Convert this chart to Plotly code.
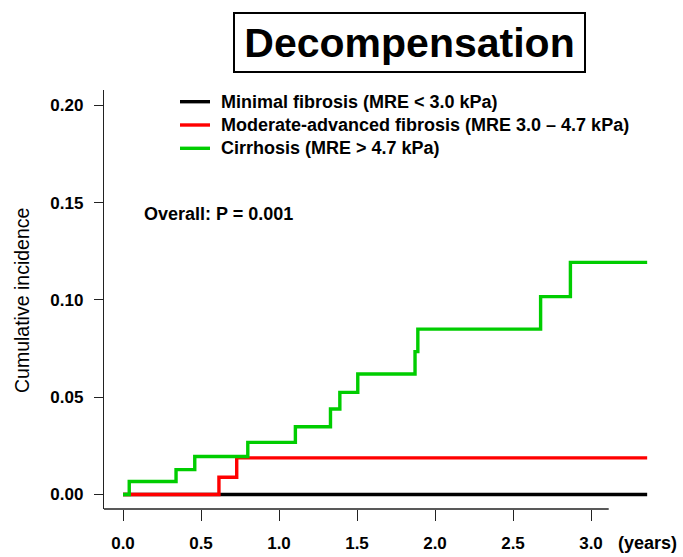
import plotly.graph_objects as go

# ---- data ----
series_names = [
    "Minimal fibrosis (MRE < 3.0 kPa)",
    "Moderate-advanced fibrosis (MRE 3.0 \u2013 4.7 kPa)",
    "Cirrhosis (MRE > 4.7 kPa)",
]
series_colors = ["#000000", "#FF0000", "#00CD00"]

minimal_time = [0.0, 3.36]
minimal_cif = [0.0, 0.0]

moderate_time = [0.0, 0.615, 0.729, 3.36]
moderate_cif = [0.0, 0.0089, 0.0188, 0.0188]

cirrhosis_time = [0.0, 0.04, 0.34, 0.46, 0.80, 1.105, 1.33, 1.39, 1.505,
                  1.872, 1.89, 2.677, 2.868, 3.36]
cirrhosis_cif = [0.0, 0.0067, 0.0128, 0.0195, 0.0268, 0.0348, 0.0439, 0.0525,
                 0.0619, 0.0734, 0.0850, 0.1017, 0.1193, 0.1193]

x_ticks = [0.0, 0.5, 1.0, 1.5, 2.0, 2.5, 3.0]
y_ticks = [0.00, 0.05, 0.10, 0.15, 0.20]

title_text = "Decompensation"
pvalue_text = "Overall: P = 0.001"
y_title = "Cumulative incidence"
x_unit = "(years)"

# ---- figure ----
W, H = 683, 557
L, R, T, B = 104, 23, 90, 48
pw = W - L - R
ph = H - T - B
FONT = "Liberation Sans, Arial, sans-serif"
AXC = "#222222"
LW = 3.4


def px_x(p):
    return (p - L) / pw


def px_y(p):
    return (H - B - p) / ph


fig = go.Figure()
for name, color, xs, ys in zip(
    series_names, series_colors,
    [minimal_time, moderate_time, cirrhosis_time],
    [minimal_cif, moderate_cif, cirrhosis_cif],
):
    fig.add_trace(go.Scatter(
        x=xs, y=ys, mode="lines", name=name,
        line=dict(color=color, width=LW, shape="hv"),
        hoverinfo="skip", showlegend=False,
    ))

xrange = [-0.12179, 3.44231]
yrange = [-0.00745, 0.20786]

fig.update_layout(
    width=W, height=H,
    margin=dict(l=L, r=R, t=T, b=B, autoexpand=False),
    paper_bgcolor="white", plot_bgcolor="white",
    font=dict(family=FONT, size=17, color="black"),
    showlegend=False,
    xaxis=dict(
        range=xrange, showgrid=False, zeroline=False, showline=False,
        automargin=False,
        tickmode="array", tickvals=x_ticks,
        ticktext=[f"{v:.1f}" for v in x_ticks],
        ticks="outside", ticklen=11, tickwidth=1.3, tickcolor=AXC,
        tickfont=dict(family=FONT, size=17, color="black", weight="bold"),
        ticklabelstandoff=8,
    ),
    yaxis=dict(
        range=yrange, showgrid=False, zeroline=False,
        automargin=False,
        showline=True, linecolor=AXC, linewidth=1.3,
        tickmode="array", tickvals=y_ticks,
        ticktext=[f"{v:.2f}" for v in y_ticks],
        ticks="outside", ticklen=9, tickwidth=1.3, tickcolor=AXC,
        tickfont=dict(family=FONT, size=17, color="black", weight="bold"),
        ticklabelstandoff=7,
    ),
)

# x-axis line (R style, stops just past the last tick)
fig.add_shape(type="line", xref="paper", yref="paper",
              x0=0, x1=px_x(608.7), y0=0, y1=0,
              line=dict(color=AXC, width=1.3))

# legend (manual, to match R's legend spacing)
legend_rows = [101.7, 125.0, 148.3]
for name, color, ry in zip(series_names, series_colors, legend_rows):
    fig.add_shape(type="line", xref="paper", yref="paper",
                  x0=px_x(180), x1=px_x(210), y0=px_y(ry), y1=px_y(ry),
                  line=dict(color=color, width=LW))
    fig.add_annotation(
        text=f"<b>{name}</b>", xref="paper", yref="paper",
        x=px_x(219), y=px_y(ry), xanchor="left", yanchor="middle",
        showarrow=False, font=dict(family=FONT, size=18, color="black"),
    )

# title box
fig.add_annotation(
    text=f"<b>{title_text}</b>", xref="paper", yref="paper",
    x=px_x(409.3), y=px_y(42.8),
    xanchor="center", yanchor="middle", showarrow=False,
    width=349, height=57, borderpad=0, borderwidth=2, bordercolor="black",
    font=dict(family=FONT, size=41, color="black"),
)

# p-value
fig.add_annotation(
    text=f"<b>{pvalue_text}</b>", xref="paper", yref="paper",
    x=px_x(142), y=px_y(214),
    xanchor="left", yanchor="middle", showarrow=False,
    font=dict(family=FONT, size=18, color="black"),
)

# y-axis title
fig.add_annotation(
    text=y_title, xref="paper", yref="paper",
    x=px_x(22), y=px_y(301),
    xanchor="center", yanchor="middle", showarrow=False, textangle=-90,
    font=dict(family=FONT, size=19.5, color="black"),
)

# x unit
fig.add_annotation(
    text=f"<b>{x_unit}</b>", xref="paper", yref="paper",
    x=px_x(647.5), y=px_y(543),
    xanchor="center", yanchor="middle", showarrow=False,
    font=dict(family=FONT, size=18, color="black"),
)

fig.write_html("out.html")
